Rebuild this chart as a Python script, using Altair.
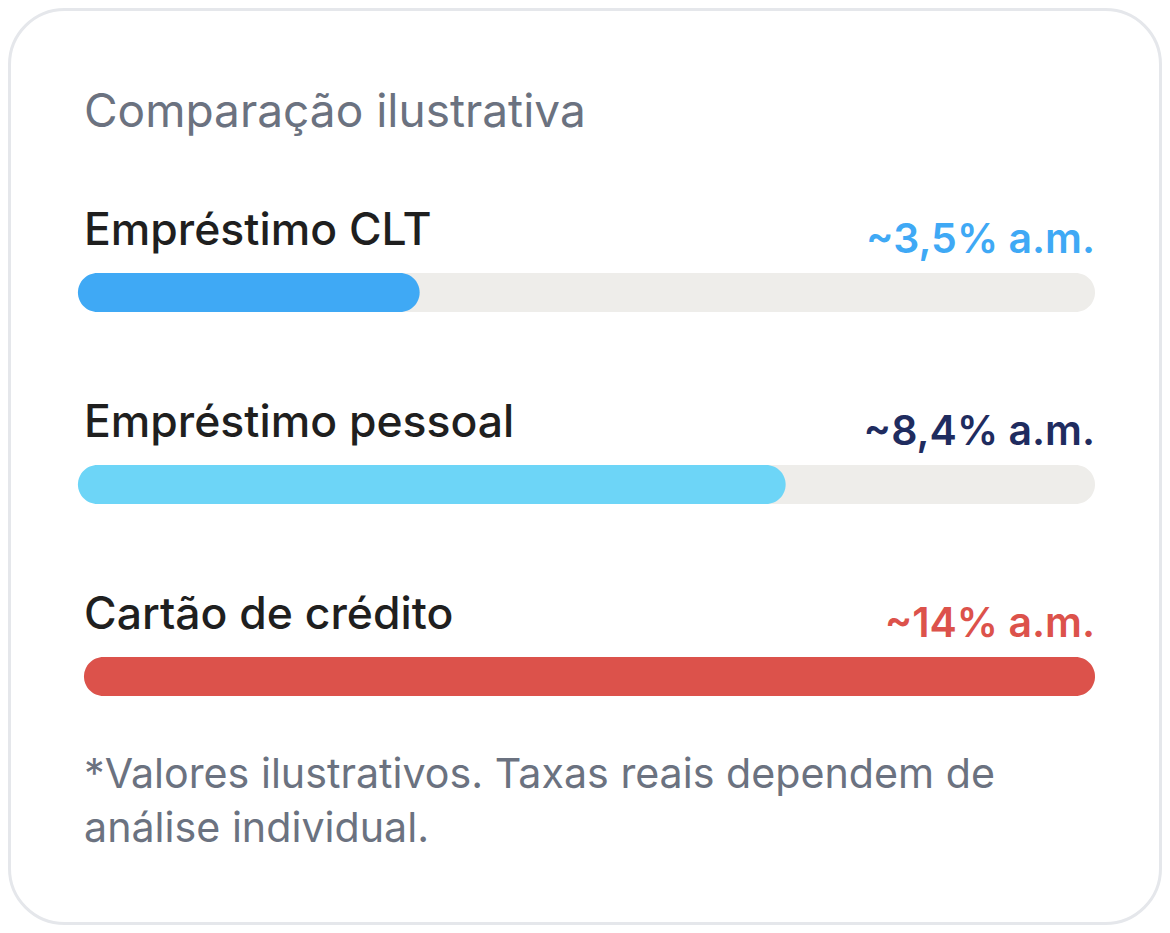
import altair as alt
import pandas as pd

# Values
labels = ['Empréstimo CLT', 'Empréstimo pessoal', 'Cartão de crédito']
rate_labels = ['~3,5% a.m.', '~8,4% a.m.', '~14% a.m.']
bar_start = [-0.6, -0.6, 0]
bar_end = [33.2, 69.4, 100]
bar_colors = ['#3fa9f5', '#6dd5f7', '#dc524b']
rate_colors = ['#3fa9f5', '#1f2c5f', '#dc524b']
track_start = [0, 0, 0]
track_end = [100, 100, 100]

title_text = 'Comparação ilustrativa'
note_lines = ['*Valores ilustrativos. Taxas reais dependem de', 'análise individual.']

FONT = 'Inter'
WIDTH = 1154
HEIGHT = 917

rows = pd.DataFrame({
    'label': labels,
    'rate': rate_labels,
    'start': bar_start,
    'end': bar_end,
    'track_start': track_start,
    'track_end': track_end,
    'bar_color': bar_colors,
    'rate_color': rate_colors,
})

x_scale = alt.Scale(domain=[0, 100], range=[76, 1087])
y_scale = alt.Scale(domain=labels, range=[188.5, 764.5], paddingInner=0, paddingOuter=0)
x_enc = alt.X('track_start:Q', scale=x_scale, axis=None)
y_enc = alt.Y('label:N', scale=y_scale, axis=None, sort=labels)

base = alt.Chart(rows)

card = alt.Chart(pd.DataFrame({'a': [0]})).mark_rect(
    fill='white', stroke='#e5e7eb', strokeWidth=3, cornerRadius=55
).encode(
    x=alt.value(1.5), x2=alt.value(1152.5), y=alt.value(1.5), y2=alt.value(915.5)
)

track = base.mark_bar(size=39, cornerRadius=19.5, color='#eeedea').encode(
    x=x_enc, x2='track_end:Q', y=y_enc
)

fill = base.mark_bar(size=39, cornerRadius=19.5).encode(
    x=alt.X('start:Q', scale=x_scale, axis=None),
    x2='end:Q',
    y=y_enc,
    color=alt.Color('bar_color:N', scale=None, legend=None)
)

row_text = base.mark_text(
    align='left', baseline='alphabetic', dy=-47.5, font=FONT, fontSize=44.5, fontWeight=500, color='#1f1f1f'
).encode(
    x=x_enc, y=y_enc, text='label:N'
)

rate_text = base.mark_text(
    align='right', baseline='alphabetic', dy=-39.5, font=FONT, fontSize=41, fontWeight=600
).encode(
    x=alt.X('track_end:Q', scale=x_scale, axis=None),
    y=y_enc,
    text='rate:N',
    color=alt.Color('rate_color:N', scale=None, legend=None)
)

title = alt.Chart(pd.DataFrame({'t': [title_text]})).mark_text(
    align='left', baseline='alphabetic', font=FONT, fontSize=46, color='#6b7280'
).encode(
    x=alt.value(76), y=alt.value(119), text='t:N'
)

note_1 = alt.Chart(pd.DataFrame({'t': [note_lines[0]]})).mark_text(
    align='left', baseline='alphabetic', font=FONT, fontSize=41.2, color='#6b7280'
).encode(
    x=alt.value(76), y=alt.value(780), text='t:N'
)

note_2 = alt.Chart(pd.DataFrame({'t': [note_lines[1]]})).mark_text(
    align='left', baseline='alphabetic', font=FONT, fontSize=41.2, color='#6b7280'
).encode(
    x=alt.value(76), y=alt.value(834), text='t:N'
)

chart = alt.layer(
    card, track, fill, row_text, rate_text, title, note_1, note_2
).properties(
    width=WIDTH,
    height=HEIGHT,
    padding=0,
    autosize='none',
    background='white'
).configure_view(stroke=None)

chart.save("out.html", embed_options={"renderer": "svg", "actions": False})
